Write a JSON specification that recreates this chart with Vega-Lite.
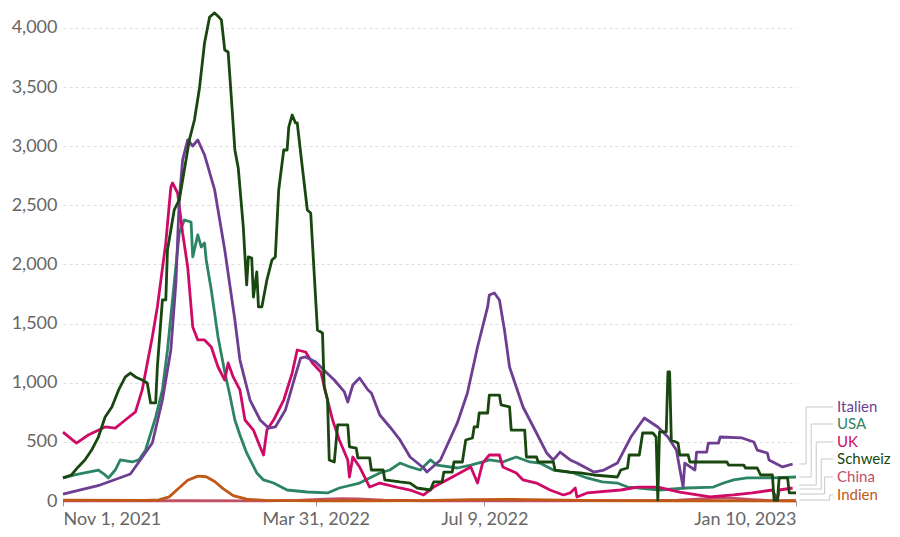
{
  "$schema": "https://vega.github.io/schema/vega-lite/v6.json",
  "width": 733,
  "height": 491,
  "autosize": "none",
  "padding": {"left": 63, "top": 10, "right": 104, "bottom": 36},
  "background": "white",
  "config": {"view": {"stroke": null}, "font": "Lato"},
  "datasets": {
    "series": [
      {"country":"China","date":"2021-11-01","value":1},{"country":"China","date":"2022-01-15","value":2},{"country":"China","date":"2022-03-01","value":1},{"country":"China","date":"2022-03-20","value":5},{"country":"China","date":"2022-04-05","value":15},{"country":"China","date":"2022-04-15","value":20},{"country":"China","date":"2022-04-25","value":18},{"country":"China","date":"2022-05-10","value":8},{"country":"China","date":"2022-06-01","value":2},{"country":"China","date":"2022-07-01","value":1},{"country":"China","date":"2022-08-15","value":2},{"country":"China","date":"2022-10-15","value":3},{"country":"China","date":"2022-11-01","value":8},{"country":"China","date":"2022-11-15","value":18},{"country":"China","date":"2022-11-27","value":26},{"country":"China","date":"2022-12-05","value":22},{"country":"China","date":"2022-12-15","value":12},{"country":"China","date":"2022-12-25","value":4},{"country":"China","date":"2023-01-10","value":2},
      {"country":"Indien","date":"2021-11-01","value":8},{"country":"Indien","date":"2021-12-20","value":5},{"country":"Indien","date":"2021-12-28","value":10},{"country":"Indien","date":"2022-01-03","value":35},{"country":"Indien","date":"2022-01-08","value":100},{"country":"Indien","date":"2022-01-14","value":175},{"country":"Indien","date":"2022-01-20","value":210},{"country":"Indien","date":"2022-01-25","value":205},{"country":"Indien","date":"2022-01-30","value":165},{"country":"Indien","date":"2022-02-04","value":105},{"country":"Indien","date":"2022-02-10","value":45},{"country":"Indien","date":"2022-02-18","value":15},{"country":"Indien","date":"2022-03-01","value":5},{"country":"Indien","date":"2022-04-01","value":1},{"country":"Indien","date":"2022-05-01","value":2},{"country":"Indien","date":"2022-06-01","value":4},{"country":"Indien","date":"2022-07-01","value":11},{"country":"Indien","date":"2022-07-25","value":14},{"country":"Indien","date":"2022-08-15","value":10},{"country":"Indien","date":"2022-09-15","value":4},{"country":"Indien","date":"2022-10-15","value":2},{"country":"Indien","date":"2022-12-01","value":1},{"country":"Indien","date":"2023-01-10","value":1},
      {"country":"USA","date":"2021-11-01","value":195},{"country":"USA","date":"2021-11-08","value":220},{"country":"USA","date":"2021-11-16","value":245},{"country":"USA","date":"2021-11-22","value":262},{"country":"USA","date":"2021-11-26","value":220},{"country":"USA","date":"2021-11-28","value":195},{"country":"USA","date":"2021-12-02","value":262},{"country":"USA","date":"2021-12-05","value":347},{"country":"USA","date":"2021-12-12","value":330},{"country":"USA","date":"2021-12-16","value":347},{"country":"USA","date":"2021-12-20","value":431},{"country":"USA","date":"2021-12-26","value":710},{"country":"USA","date":"2021-12-30","value":939},{"country":"USA","date":"2022-01-02","value":1277},{"country":"USA","date":"2022-01-06","value":1844},{"country":"USA","date":"2022-01-09","value":2266},{"country":"USA","date":"2022-01-12","value":2376},{"country":"USA","date":"2022-01-16","value":2359},{"country":"USA","date":"2022-01-17","value":2064},{"country":"USA","date":"2022-01-20","value":2250},{"country":"USA","date":"2022-01-22","value":2148},{"country":"USA","date":"2022-01-24","value":2182},{"country":"USA","date":"2022-01-25","value":2038},{"country":"USA","date":"2022-01-28","value":1784},{"country":"USA","date":"2022-02-01","value":1387},{"country":"USA","date":"2022-02-05","value":1091},{"country":"USA","date":"2022-02-08","value":896},{"country":"USA","date":"2022-02-11","value":685},{"country":"USA","date":"2022-02-14","value":558},{"country":"USA","date":"2022-02-18","value":406},{"country":"USA","date":"2022-02-24","value":237},{"country":"USA","date":"2022-02-28","value":178},{"country":"USA","date":"2022-03-06","value":152},{"country":"USA","date":"2022-03-14","value":93},{"country":"USA","date":"2022-03-26","value":76},{"country":"USA","date":"2022-04-07","value":68},{"country":"USA","date":"2022-04-14","value":110},{"country":"USA","date":"2022-04-26","value":152},{"country":"USA","date":"2022-05-08","value":237},{"country":"USA","date":"2022-05-14","value":262},{"country":"USA","date":"2022-05-20","value":321},{"country":"USA","date":"2022-05-26","value":288},{"country":"USA","date":"2022-06-01","value":262},{"country":"USA","date":"2022-06-07","value":347},{"country":"USA","date":"2022-06-11","value":304},{"country":"USA","date":"2022-06-23","value":279},{"country":"USA","date":"2022-07-01","value":304},{"country":"USA","date":"2022-07-08","value":330},{"country":"USA","date":"2022-07-12","value":347},{"country":"USA","date":"2022-07-20","value":330},{"country":"USA","date":"2022-07-28","value":372},{"country":"USA","date":"2022-08-05","value":330},{"country":"USA","date":"2022-08-11","value":321},{"country":"USA","date":"2022-08-19","value":262},{"country":"USA","date":"2022-08-31","value":237},{"country":"USA","date":"2022-09-08","value":195},{"country":"USA","date":"2022-09-17","value":161},{"country":"USA","date":"2022-09-26","value":152},{"country":"USA","date":"2022-10-02","value":118},{"country":"USA","date":"2022-10-09","value":110},{"country":"USA","date":"2022-10-21","value":93},{"country":"USA","date":"2022-11-06","value":110},{"country":"USA","date":"2022-11-22","value":118},{"country":"USA","date":"2022-11-28","value":152},{"country":"USA","date":"2022-12-04","value":178},{"country":"USA","date":"2022-12-12","value":195},{"country":"USA","date":"2022-12-27","value":195},{"country":"USA","date":"2023-01-10","value":203},
      {"country":"UK","date":"2021-11-01","value":583},{"country":"UK","date":"2021-11-09","value":490},{"country":"UK","date":"2021-11-16","value":558},{"country":"UK","date":"2021-11-26","value":626},{"country":"UK","date":"2021-12-02","value":617},{"country":"UK","date":"2021-12-08","value":685},{"country":"UK","date":"2021-12-14","value":753},{"country":"UK","date":"2021-12-18","value":939},{"country":"UK","date":"2021-12-24","value":1387},{"country":"UK","date":"2021-12-27","value":1641},{"country":"UK","date":"2022-01-01","value":2182},{"country":"UK","date":"2022-01-04","value":2655},{"country":"UK","date":"2022-01-05","value":2689},{"country":"UK","date":"2022-01-08","value":2605},{"country":"UK","date":"2022-01-11","value":2266},{"country":"UK","date":"2022-01-14","value":1979},{"country":"UK","date":"2022-01-17","value":1472},{"country":"UK","date":"2022-01-20","value":1362},{"country":"UK","date":"2022-01-24","value":1362},{"country":"UK","date":"2022-01-28","value":1302},{"country":"UK","date":"2022-02-01","value":1133},{"country":"UK","date":"2022-02-05","value":1023},{"country":"UK","date":"2022-02-07","value":1167},{"country":"UK","date":"2022-02-10","value":1049},{"country":"UK","date":"2022-02-14","value":939},{"country":"UK","date":"2022-02-17","value":685},{"country":"UK","date":"2022-02-22","value":600},{"country":"UK","date":"2022-02-26","value":456},{"country":"UK","date":"2022-02-28","value":389},{"country":"UK","date":"2022-03-02","value":600},{"country":"UK","date":"2022-03-06","value":685},{"country":"UK","date":"2022-03-12","value":854},{"country":"UK","date":"2022-03-17","value":1082},{"country":"UK","date":"2022-03-20","value":1277},{"country":"UK","date":"2022-03-25","value":1260},{"country":"UK","date":"2022-03-29","value":1167},{"country":"UK","date":"2022-04-03","value":1091},{"country":"UK","date":"2022-04-07","value":854},{"country":"UK","date":"2022-04-10","value":685},{"country":"UK","date":"2022-04-14","value":516},{"country":"UK","date":"2022-04-19","value":347},{"country":"UK","date":"2022-04-20","value":203},{"country":"UK","date":"2022-04-22","value":372},{"country":"UK","date":"2022-04-26","value":288},{"country":"UK","date":"2022-05-02","value":118},{"country":"UK","date":"2022-05-08","value":152},{"country":"UK","date":"2022-05-20","value":110},{"country":"UK","date":"2022-05-26","value":93},{"country":"UK","date":"2022-06-03","value":51},{"country":"UK","date":"2022-06-09","value":118},{"country":"UK","date":"2022-06-19","value":195},{"country":"UK","date":"2022-07-01","value":288},{"country":"UK","date":"2022-07-05","value":152},{"country":"UK","date":"2022-07-08","value":321},{"country":"UK","date":"2022-07-12","value":389},{"country":"UK","date":"2022-07-18","value":389},{"country":"UK","date":"2022-07-20","value":288},{"country":"UK","date":"2022-07-28","value":237},{"country":"UK","date":"2022-08-01","value":178},{"country":"UK","date":"2022-08-09","value":152},{"country":"UK","date":"2022-08-17","value":93},{"country":"UK","date":"2022-08-25","value":51},{"country":"UK","date":"2022-08-29","value":68},{"country":"UK","date":"2022-09-01","value":110},{"country":"UK","date":"2022-09-02","value":34},{"country":"UK","date":"2022-09-08","value":68},{"country":"UK","date":"2022-09-28","value":93},{"country":"UK","date":"2022-10-08","value":118},{"country":"UK","date":"2022-10-20","value":118},{"country":"UK","date":"2022-11-02","value":76},{"country":"UK","date":"2022-11-20","value":34},{"country":"UK","date":"2022-12-04","value":51},{"country":"UK","date":"2022-12-15","value":68},{"country":"UK","date":"2022-12-27","value":93},{"country":"UK","date":"2022-12-30","value":8},{"country":"UK","date":"2022-12-31","value":93},{"country":"UK","date":"2023-01-08","value":110},
      {"country":"Italien","date":"2021-11-01","value":59},{"country":"Italien","date":"2021-11-23","value":135},{"country":"Italien","date":"2021-12-11","value":228},{"country":"Italien","date":"2021-12-24","value":490},{"country":"Italien","date":"2021-12-30","value":854},{"country":"Italien","date":"2022-01-04","value":1277},{"country":"Italien","date":"2022-01-07","value":1844},{"country":"Italien","date":"2022-01-09","value":2546},{"country":"Italien","date":"2022-01-11","value":2884},{"country":"Italien","date":"2022-01-14","value":3053},{"country":"Italien","date":"2022-01-17","value":3002},{"country":"Italien","date":"2022-01-20","value":3053},{"country":"Italien","date":"2022-01-24","value":2926},{"country":"Italien","date":"2022-01-30","value":2630},{"country":"Italien","date":"2022-02-05","value":2123},{"country":"Italien","date":"2022-02-11","value":1531},{"country":"Italien","date":"2022-02-14","value":1192},{"country":"Italien","date":"2022-02-20","value":854},{"country":"Italien","date":"2022-02-26","value":685},{"country":"Italien","date":"2022-03-03","value":617},{"country":"Italien","date":"2022-03-07","value":626},{"country":"Italien","date":"2022-03-13","value":770},{"country":"Italien","date":"2022-03-19","value":1066},{"country":"Italien","date":"2022-03-22","value":1209},{"country":"Italien","date":"2022-03-25","value":1218},{"country":"Italien","date":"2022-03-31","value":1175},{"country":"Italien","date":"2022-04-06","value":1091},{"country":"Italien","date":"2022-04-11","value":1023},{"country":"Italien","date":"2022-04-17","value":922},{"country":"Italien","date":"2022-04-19","value":837},{"country":"Italien","date":"2022-04-22","value":981},{"country":"Italien","date":"2022-04-26","value":1040},{"country":"Italien","date":"2022-05-01","value":939},{"country":"Italien","date":"2022-05-03","value":913},{"country":"Italien","date":"2022-05-08","value":727},{"country":"Italien","date":"2022-05-14","value":626},{"country":"Italien","date":"2022-05-20","value":516},{"country":"Italien","date":"2022-05-26","value":372},{"country":"Italien","date":"2022-06-03","value":279},{"country":"Italien","date":"2022-06-05","value":245},{"country":"Italien","date":"2022-06-13","value":347},{"country":"Italien","date":"2022-06-23","value":660},{"country":"Italien","date":"2022-06-29","value":913},{"country":"Italien","date":"2022-07-05","value":1302},{"country":"Italien","date":"2022-07-11","value":1641},{"country":"Italien","date":"2022-07-12","value":1742},{"country":"Italien","date":"2022-07-15","value":1759},{"country":"Italien","date":"2022-07-18","value":1700},{"country":"Italien","date":"2022-07-21","value":1446},{"country":"Italien","date":"2022-07-24","value":1133},{"country":"Italien","date":"2022-08-01","value":795},{"country":"Italien","date":"2022-08-09","value":575},{"country":"Italien","date":"2022-08-15","value":406},{"country":"Italien","date":"2022-08-19","value":347},{"country":"Italien","date":"2022-08-23","value":414},{"country":"Italien","date":"2022-08-29","value":347},{"country":"Italien","date":"2022-09-02","value":321},{"country":"Italien","date":"2022-09-12","value":245},{"country":"Italien","date":"2022-09-18","value":262},{"country":"Italien","date":"2022-09-26","value":321},{"country":"Italien","date":"2022-10-04","value":541},{"country":"Italien","date":"2022-10-12","value":702},{"country":"Italien","date":"2022-10-20","value":626},{"country":"Italien","date":"2022-10-26","value":541},{"country":"Italien","date":"2022-10-31","value":431},{"country":"Italien","date":"2022-11-04","value":118},{"country":"Italien","date":"2022-11-05","value":321},{"country":"Italien","date":"2022-11-11","value":262},{"country":"Italien","date":"2022-11-12","value":414},{"country":"Italien","date":"2022-11-18","value":414},{"country":"Italien","date":"2022-11-19","value":490},{"country":"Italien","date":"2022-11-25","value":490},{"country":"Italien","date":"2022-11-26","value":541},{"country":"Italien","date":"2022-12-09","value":533},{"country":"Italien","date":"2022-12-16","value":499},{"country":"Italien","date":"2022-12-18","value":431},{"country":"Italien","date":"2022-12-24","value":406},{"country":"Italien","date":"2022-12-25","value":347},{"country":"Italien","date":"2023-01-02","value":288},{"country":"Italien","date":"2023-01-08","value":313},
      {"country":"Schweiz","date":"2021-11-01","value":195},{"country":"Schweiz","date":"2021-11-06","value":220},{"country":"Schweiz","date":"2021-11-10","value":288},{"country":"Schweiz","date":"2021-11-14","value":347},{"country":"Schweiz","date":"2021-11-18","value":431},{"country":"Schweiz","date":"2021-11-22","value":541},{"country":"Schweiz","date":"2021-11-26","value":710},{"country":"Schweiz","date":"2021-11-30","value":795},{"country":"Schweiz","date":"2021-12-04","value":939},{"country":"Schweiz","date":"2021-12-08","value":1049},{"country":"Schweiz","date":"2021-12-11","value":1082},{"country":"Schweiz","date":"2021-12-14","value":1049},{"country":"Schweiz","date":"2021-12-18","value":1023},{"country":"Schweiz","date":"2021-12-21","value":998},{"country":"Schweiz","date":"2021-12-23","value":829},{"country":"Schweiz","date":"2021-12-26","value":829},{"country":"Schweiz","date":"2021-12-27","value":1133},{"country":"Schweiz","date":"2021-12-30","value":1700},{"country":"Schweiz","date":"2022-01-01","value":1700},{"country":"Schweiz","date":"2022-01-02","value":2123},{"country":"Schweiz","date":"2022-01-06","value":2461},{"country":"Schweiz","date":"2022-01-09","value":2546},{"country":"Schweiz","date":"2022-01-12","value":2799},{"country":"Schweiz","date":"2022-01-15","value":3053},{"country":"Schweiz","date":"2022-01-18","value":3222},{"country":"Schweiz","date":"2022-01-21","value":3493},{"country":"Schweiz","date":"2022-01-24","value":3873},{"country":"Schweiz","date":"2022-01-27","value":4093},{"country":"Schweiz","date":"2022-01-30","value":4127},{"country":"Schweiz","date":"2022-02-01","value":4100},{"country":"Schweiz","date":"2022-02-03","value":4068},{"country":"Schweiz","date":"2022-02-05","value":3814},{"country":"Schweiz","date":"2022-02-07","value":3797},{"country":"Schweiz","date":"2022-02-09","value":3391},{"country":"Schweiz","date":"2022-02-11","value":2968},{"country":"Schweiz","date":"2022-02-13","value":2816},{"country":"Schweiz","date":"2022-02-16","value":2317},{"country":"Schweiz","date":"2022-02-17","value":2064},{"country":"Schweiz","date":"2022-02-18","value":1827},{"country":"Schweiz","date":"2022-02-19","value":2064},{"country":"Schweiz","date":"2022-02-21","value":2055},{"country":"Schweiz","date":"2022-02-22","value":1725},{"country":"Schweiz","date":"2022-02-24","value":1937},{"country":"Schweiz","date":"2022-02-25","value":1641},{"country":"Schweiz","date":"2022-02-27","value":1641},{"country":"Schweiz","date":"2022-03-02","value":1869},{"country":"Schweiz","date":"2022-03-05","value":2038},{"country":"Schweiz","date":"2022-03-07","value":2064},{"country":"Schweiz","date":"2022-03-09","value":2630},{"country":"Schweiz","date":"2022-03-12","value":2968},{"country":"Schweiz","date":"2022-03-14","value":2968},{"country":"Schweiz","date":"2022-03-15","value":3163},{"country":"Schweiz","date":"2022-03-17","value":3264},{"country":"Schweiz","date":"2022-03-19","value":3197},{"country":"Schweiz","date":"2022-03-20","value":3197},{"country":"Schweiz","date":"2022-03-23","value":2825},{"country":"Schweiz","date":"2022-03-26","value":2461},{"country":"Schweiz","date":"2022-03-28","value":2436},{"country":"Schweiz","date":"2022-04-01","value":1446},{"country":"Schweiz","date":"2022-04-04","value":1421},{"country":"Schweiz","date":"2022-04-05","value":964},{"country":"Schweiz","date":"2022-04-07","value":854},{"country":"Schweiz","date":"2022-04-08","value":347},{"country":"Schweiz","date":"2022-04-11","value":330},{"country":"Schweiz","date":"2022-04-13","value":643},{"country":"Schweiz","date":"2022-04-19","value":643},{"country":"Schweiz","date":"2022-04-20","value":457},{"country":"Schweiz","date":"2022-04-24","value":448},{"country":"Schweiz","date":"2022-04-25","value":364},{"country":"Schweiz","date":"2022-05-02","value":364},{"country":"Schweiz","date":"2022-05-03","value":262},{"country":"Schweiz","date":"2022-05-10","value":262},{"country":"Schweiz","date":"2022-05-11","value":178},{"country":"Schweiz","date":"2022-05-20","value":161},{"country":"Schweiz","date":"2022-05-26","value":152},{"country":"Schweiz","date":"2022-05-30","value":110},{"country":"Schweiz","date":"2022-06-07","value":93},{"country":"Schweiz","date":"2022-06-09","value":161},{"country":"Schweiz","date":"2022-06-14","value":161},{"country":"Schweiz","date":"2022-06-15","value":245},{"country":"Schweiz","date":"2022-06-20","value":245},{"country":"Schweiz","date":"2022-06-21","value":330},{"country":"Schweiz","date":"2022-06-26","value":330},{"country":"Schweiz","date":"2022-06-28","value":516},{"country":"Schweiz","date":"2022-07-02","value":533},{"country":"Schweiz","date":"2022-07-03","value":626},{"country":"Schweiz","date":"2022-07-05","value":626},{"country":"Schweiz","date":"2022-07-06","value":744},{"country":"Schweiz","date":"2022-07-11","value":744},{"country":"Schweiz","date":"2022-07-12","value":896},{"country":"Schweiz","date":"2022-07-18","value":896},{"country":"Schweiz","date":"2022-07-19","value":812},{"country":"Schweiz","date":"2022-07-24","value":795},{"country":"Schweiz","date":"2022-07-25","value":600},{"country":"Schweiz","date":"2022-08-02","value":600},{"country":"Schweiz","date":"2022-08-03","value":372},{"country":"Schweiz","date":"2022-08-09","value":372},{"country":"Schweiz","date":"2022-08-10","value":330},{"country":"Schweiz","date":"2022-08-19","value":330},{"country":"Schweiz","date":"2022-08-20","value":262},{"country":"Schweiz","date":"2022-08-29","value":245},{"country":"Schweiz","date":"2022-09-04","value":237},{"country":"Schweiz","date":"2022-09-12","value":220},{"country":"Schweiz","date":"2022-09-26","value":203},{"country":"Schweiz","date":"2022-09-28","value":262},{"country":"Schweiz","date":"2022-10-02","value":279},{"country":"Schweiz","date":"2022-10-03","value":389},{"country":"Schweiz","date":"2022-10-09","value":389},{"country":"Schweiz","date":"2022-10-11","value":575},{"country":"Schweiz","date":"2022-10-17","value":575},{"country":"Schweiz","date":"2022-10-19","value":541},{"country":"Schweiz","date":"2022-10-20","value":8},{"country":"Schweiz","date":"2022-10-21","value":584},{"country":"Schweiz","date":"2022-10-25","value":584},{"country":"Schweiz","date":"2022-10-26","value":1091},{"country":"Schweiz","date":"2022-10-27","value":1091},{"country":"Schweiz","date":"2022-10-28","value":516},{"country":"Schweiz","date":"2022-11-01","value":490},{"country":"Schweiz","date":"2022-11-02","value":389},{"country":"Schweiz","date":"2022-11-07","value":389},{"country":"Schweiz","date":"2022-11-08","value":330},{"country":"Schweiz","date":"2022-11-30","value":330},{"country":"Schweiz","date":"2022-12-01","value":304},{"country":"Schweiz","date":"2022-12-10","value":304},{"country":"Schweiz","date":"2022-12-11","value":279},{"country":"Schweiz","date":"2022-12-18","value":279},{"country":"Schweiz","date":"2022-12-20","value":220},{"country":"Schweiz","date":"2022-12-27","value":220},{"country":"Schweiz","date":"2022-12-28","value":8},{"country":"Schweiz","date":"2022-12-30","value":8},{"country":"Schweiz","date":"2022-12-31","value":195},{"country":"Schweiz","date":"2023-01-05","value":195},{"country":"Schweiz","date":"2023-01-06","value":68},{"country":"Schweiz","date":"2023-01-10","value":68}
    ],
    "connectors": [
      {"country":"Italien","step":1,"date":"2023-01-12","value":313},{"country":"Italien","step":2,"date":"2023-01-16","value":313},{"country":"Italien","step":3,"date":"2023-01-16","value":795},{"country":"Italien","step":4,"date":"2023-02-01","value":795},
      {"country":"USA","step":1,"date":"2023-01-12","value":203},{"country":"USA","step":2,"date":"2023-01-19","value":203},{"country":"USA","step":3,"date":"2023-01-19","value":651},{"country":"USA","step":4,"date":"2023-02-01","value":651},
      {"country":"UK","step":1,"date":"2023-01-12","value":135},{"country":"UK","step":2,"date":"2023-01-22","value":135},{"country":"UK","step":3,"date":"2023-01-22","value":499},{"country":"UK","step":4,"date":"2023-02-01","value":499},
      {"country":"Schweiz","step":1,"date":"2023-01-12","value":101},{"country":"Schweiz","step":2,"date":"2023-01-25","value":101},{"country":"Schweiz","step":3,"date":"2023-01-25","value":355},{"country":"Schweiz","step":4,"date":"2023-02-01","value":355},
      {"country":"China","step":1,"date":"2023-01-12","value":59},{"country":"China","step":2,"date":"2023-01-27","value":59},{"country":"China","step":3,"date":"2023-01-27","value":203},{"country":"China","step":4,"date":"2023-02-01","value":203},
      {"country":"Indien","step":1,"date":"2023-01-12","value":8},{"country":"Indien","step":2,"date":"2023-01-30","value":8},{"country":"Indien","step":3,"date":"2023-01-30","value":51},{"country":"Indien","step":4,"date":"2023-02-01","value":51}
    ],
    "labels": [
      {"country":"Italien","date":"2023-02-01","value":795},
      {"country":"USA","date":"2023-02-01","value":651},
      {"country":"UK","date":"2023-02-01","value":499},
      {"country":"Schweiz","date":"2023-02-01","value":355},
      {"country":"China","date":"2023-02-01","value":203},
      {"country":"Indien","date":"2023-02-01","value":51}
    ]
  },
  "encoding": {
    "x": {
      "field": "date", "type": "temporal",
      "scale": {"type": "utc", "domain": [{"year":2021,"month":11,"date":1,"utc":true},{"year":2023,"month":1,"date":10,"utc":true}]},
      "axis": {
        "title": null,
        "values": [{"year":2021,"month":11,"date":1,"utc":true},{"year":2022,"month":3,"date":31,"utc":true},{"year":2022,"month":7,"date":9,"utc":true},{"year":2023,"month":1,"date":10,"utc":true}],
        "labelExpr": "utcFormat(datum.value, '%b %-d, %Y')",
        "labelFlush": true, "labelFont": "Lato", "labelFontSize": 18, "labelColor": "#666666",
        "labelPadding": 4, "grid": false, "domain": true, "domainColor": "#999999",
        "ticks": true, "tickColor": "#999999", "tickSize": 5
      }
    },
    "y": {
      "field": "value", "type": "quantitative",
      "scale": {"domain": [0, 4152], "nice": false, "zero": true},
      "axis": {
        "title": null,
        "values": [0,500,1000,1500,2000,2500,3000,3500,4000],
        "labelExpr": "format(datum.value, ',.0f')",
        "labelFont": "Lato", "labelFontSize": 18, "labelColor": "#666666",
        "labelPadding": 6, "domain": false, "ticks": false,
        "grid": true, "gridColor": "#dddddd", "gridDash": [3, 3], "gridWidth": 1
      }
    }
  },
  "layer": [
    {
      "data": {"name": "connectors"},
      "mark": {"type": "line", "clip": false, "strokeWidth": 1, "color": "#c8c8c8"},
      "encoding": {
        "detail": {"field": "country"},
        "order": {"field": "step", "type": "quantitative"}
      }
    },
    {
      "data": {"name": "series"},
      "mark": {"type": "line", "strokeWidth": 2.8, "strokeJoin": "round"},
      "encoding": {
        "color": {
          "field": "country", "type": "nominal",
          "scale": {"domain": ["Italien","USA","UK","Schweiz","China","Indien"], "range": ["#6D3E91","#2C8465","#CF0A66","#18470F","#C15065","#C05917"]},
          "legend": null
        }
      }
    },
    {
      "data": {"name": "labels"},
      "mark": {"type": "text", "align": "left", "baseline": "middle", "dx": 4, "fontSize": 15, "font": "Lato", "clip": false},
      "encoding": {
        "text": {"field": "country"},
        "color": {"field": "country", "type": "nominal", "legend": null}
      }
    }
  ]
}
